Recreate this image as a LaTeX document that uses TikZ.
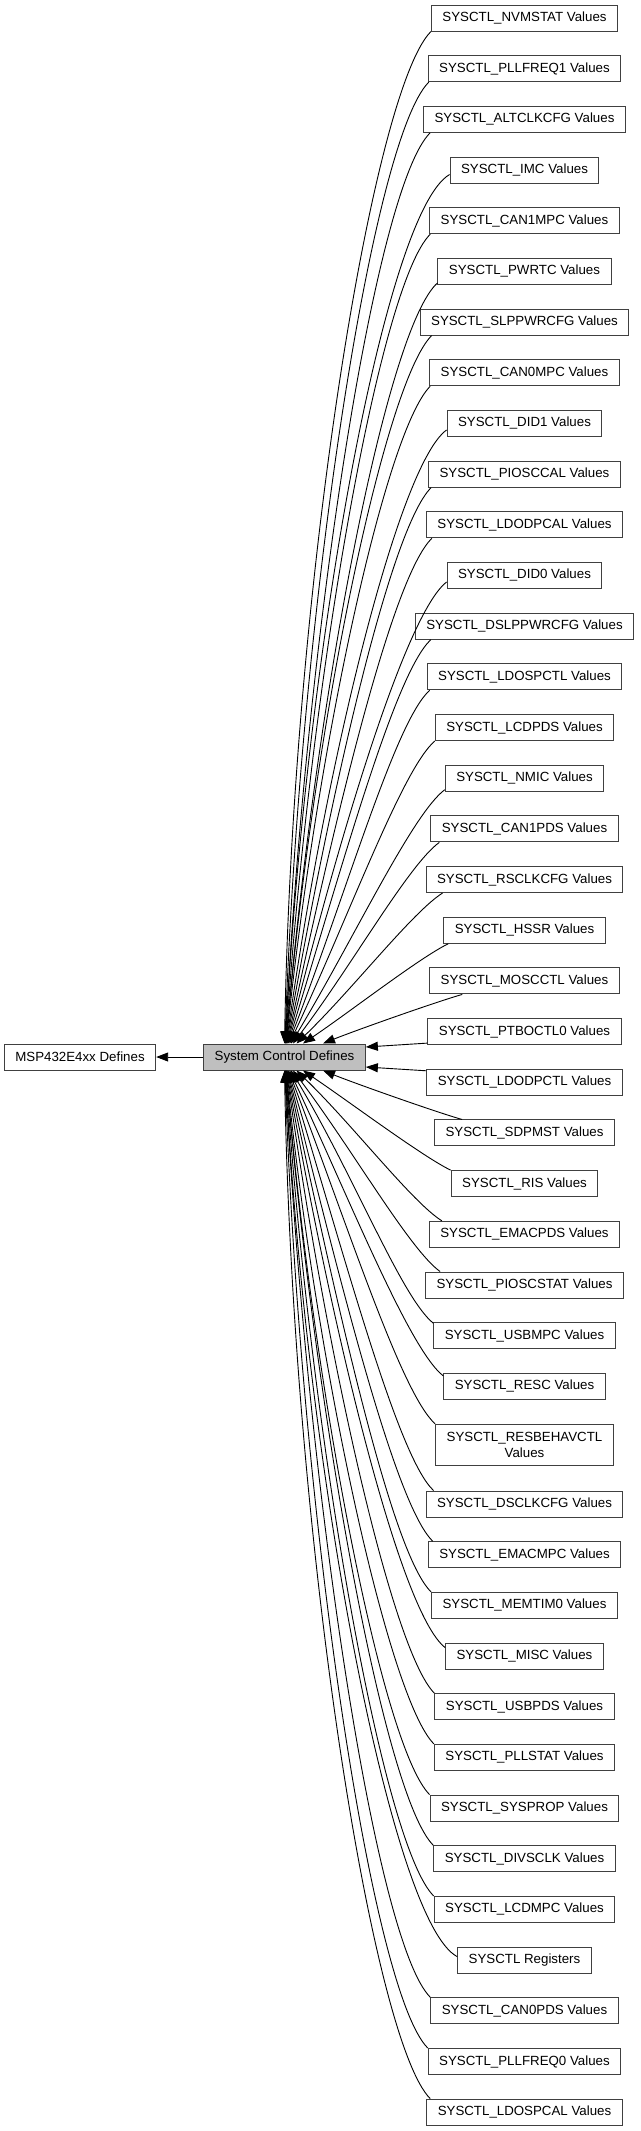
\documentclass[tikz,border=0pt]{standalone}
\usepackage{fontspec}
\setmainfont{Liberation Sans}
\usetikzlibrary{arrows.meta}
\definecolor{dxborder}{HTML}{404040}
\definecolor{dxgrey}{HTML}{BFBFBF}
\tikzset{
  >={Triangle[length=12pt,width=9pt]},
  dxbox/.style={draw=dxborder,fill=white,line width=1pt,align=center,
    font=\fontsize{13.3}{16}\selectfont,inner xsep=11pt,minimum height=26pt},
  dxedge/.style={<-,draw=black,line width=.9pt}
}
\begin{document}
\begin{tikzpicture}[x=1pt,y=1pt]
  \useasboundingbox (0,0) rectangle (640,-2131);

  \node[dxbox] (msp) at (80,-1057) {MSP432E4xx Defines};
  \node[dxbox,fill=dxgrey] (scd) at (284.5,-1057) {System Control Defines};

  % register groups above the centre
  \foreach \n/\t [count=\i from 0] in {
      nvmstat/NVMSTAT,pllfreq1/PLLFREQ1,altclkcfg/ALTCLKCFG,imc/IMC,
      can1mpc/CAN1MPC,pwrtc/PWRTC,slppwrcfg/SLPPWRCFG,can0mpc/CAN0MPC,
      did1/DID1,piosccal/PIOSCCAL,ldodpcal/LDODPCAL,did0/DID0,
      dslppwrcfg/DSLPPWRCFG,ldospctl/LDOSPCTL,lcdpds/LCDPDS,nmic/NMIC,
      can1pds/CAN1PDS,rsclkcfg/RSCLKCFG,hssr/HSSR,moscctl/MOSCCTL,
      ptboctl0/PTBOCTL0,ldodpctl/LDODPCTL,sdpmst/SDPMST,ris/RIS,
      emacpds/EMACPDS,pioscstat/PIOSCSTAT,usbmpc/USBMPC,resc/RESC}
    \node[dxbox] (\n) at (524.5,{-18-50.68*\i}) {SYSCTL\_\t{} Values};

  \node[dxbox,minimum height=41pt] (resbehavctl) at (524.5,-1444.8)
    {SYSCTL\_RESBEHAVCTL\\Values};

  % register groups below the two-line box
  \foreach \n/\t [count=\i from 0] in {
      dsclkcfg/SYSCTL\_DSCLKCFG Values,emacmpc/SYSCTL\_EMACMPC Values,
      memtim0/SYSCTL\_MEMTIM0 Values,misc/SYSCTL\_MISC Values,
      usbpds/SYSCTL\_USBPDS Values,pllstat/SYSCTL\_PLLSTAT Values,
      sysprop/SYSCTL\_SYSPROP Values,divsclk/SYSCTL\_DIVSCLK Values,
      lcdmpc/SYSCTL\_LCDMPC Values,regs/SYSCTL Registers,
      can0pds/SYSCTL\_CAN0PDS Values,pllfreq0/SYSCTL\_PLLFREQ0 Values,
      ldospcal/SYSCTL\_LDOSPCAL Values}
    \node[dxbox] (\n) at (524.5,{-1504-50.68*\i}) {\t};

  \draw[dxedge] (msp) -- (scd);
  \draw[dxedge] ([yshift=10pt]scd.east) -- ([yshift=2pt]ptboctl0.south west);
  \draw[dxedge] ([yshift=-10pt]scd.east) -- ([yshift=-2pt]ldodpctl.north west);

  % name / exit shift x,y / tip shift / tip angle / tip pull / exit angle / exit pull
  \foreach \n/\s/\v/\x/\a/\l/\b/\m in {
      moscctl/33/0/38.5/22/33/16/29,hssr/5/0/18.5/34/56/26/32,
      rsclkcfg/17/0/12/44/78/32/35,can1pds/9/0/8.5/53/100/36/38,
      nmic/0/2/6.5/59/123/37/41,lcdpds/0/0/5/65/145/41/43,
      ldospctl/3/0/4/69/167/42/46,dslppwrcfg/16/0/3.5/73/190/43/49,
      did0/0/7/3/76/212/38/52,ldodpcal/6/0/2.5/78/234/44/55,
      piosccal/3/0/2/80/256/45/58,did1/0/7/1.8/82/279/36/60,
      can0mpc/1/0/1.6/84/301/45/63,slppwrcfg/12/0/1.4/85/323/45/66,
      pwrtc/0/2/1.2/85/346/42/69,can1mpc/1/0/1/86/368/45/72,
      imc/0/9/.8/87/390/30/75,altclkcfg/7/0/.6/87/413/45/78,
      pllfreq1/1/0/.4/88/435/45/80,nvmstat/0/0/0/89/457/45/83}
    \draw[dxedge] ([xshift=\x pt]scd.north) .. controls +(\a:\l) and +({180+\b}:\m)
      .. ([shift={(\s pt,\v pt)}]\n.south west);

  \foreach \n/\s/\v/\x/\a/\l/\b/\m in {
      sdpmst/28/0/38.5/22/33/16/29,ris/0/0/18.5/34/56/26/32,
      emacpds/13/0/12/44/78/32/35,pioscstat/15/0/8.5/53/100/36/38,
      usbmpc/0/1/6.5/59/123/39/41,resc/0/3/5/65/145/38/43,
      resbehavctl/0/0/4/69/167/42/46,dsclkcfg/8/0/3.5/73/197/43/49,
      emacmpc/5/0/3/76/219/44/52,memtim0/0/0/2.5/78/241/44/55,
      misc/0/5/2/80/263/38/58,usbpds/0/0/1.8/82/286/45/60,
      pllstat/0/0/1.6/84/308/45/63,sysprop/0/0/1.4/85/330/45/66,
      divsclk/0/0/1.2/85/353/45/69,lcdmpc/0/0/1/86/375/45/72,
      regs/0/10/.8/87/397/28/75,can0pds/0/0/.6/87/420/45/78,
      pllfreq0/0/0/.4/88/442/45/80,ldospcal/4/0/0/89/464/45/83}
    \draw[dxedge] ([xshift=\x pt]scd.south) .. controls +(-\a:\l) and +({180-\b}:\m)
      .. ([shift={(\s pt,-\v pt)}]\n.north west);
\end{tikzpicture}
\end{document}
